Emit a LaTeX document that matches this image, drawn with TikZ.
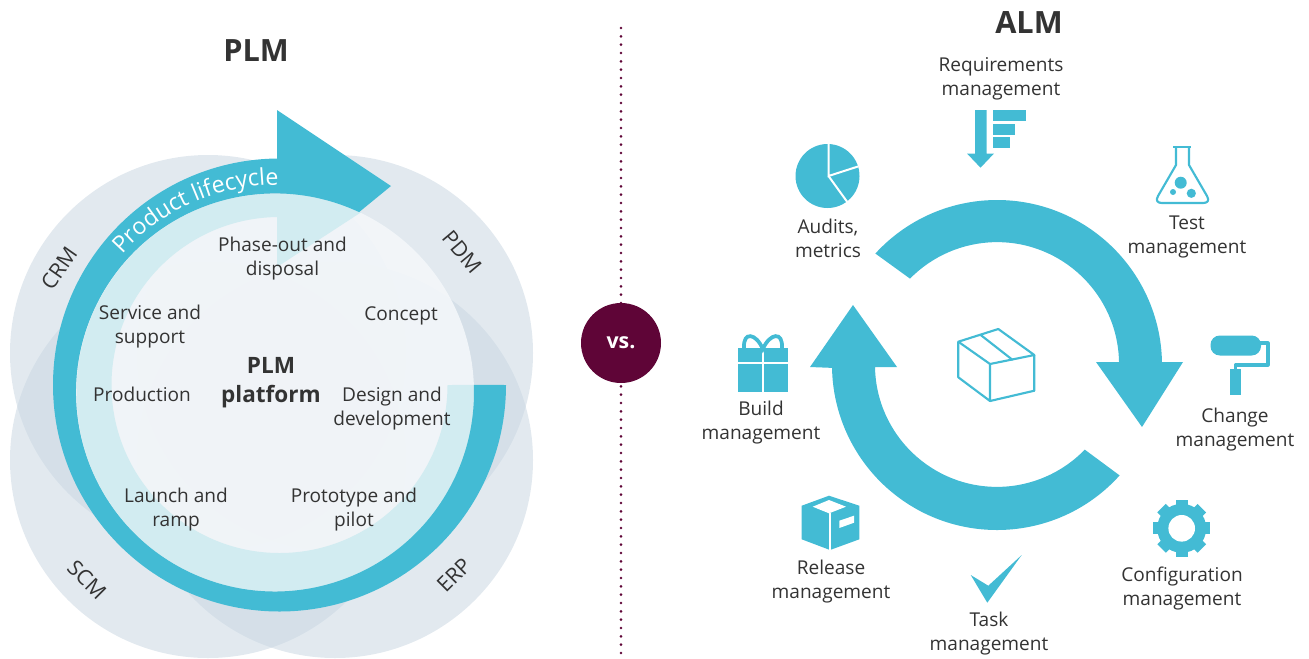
\documentclass[tikz,border=0pt]{standalone}
\usepackage{fontspec}
\setmainfont{Open Sans}
\usetikzlibrary{decorations.text}
\definecolor{cy}{HTML}{43BBD4}
\definecolor{pale}{HTML}{D2ECF1}
\definecolor{gr}{HTML}{CAD7E2}
\definecolor{tx}{HTML}{333333}
\definecolor{plum}{HTML}{5F0537}
\definecolor{disc}{HTML}{F4F7FA}
\tikzset{
 lab/.style={font=\fontsize{14.3}{18}\selectfont,text=tx,align=center,inner sep=0pt},
 side/.style={font=\fontsize{16}{18}\selectfont,text=tx,inner sep=0pt},
 ttl/.style={font=\fontsize{23}{26}\selectfont\bfseries,text=tx,inner sep=0pt},
 gcirc/.style={fill=gr,fill opacity=.55},
 ln/.style={draw=cy,line width=1.6pt,line join=round,fill=none},
}
\begin{document}
\begin{tikzpicture}[x=0.75pt,y=0.75pt]
\useasboundingbox (0,0) rectangle (1309,-658);
\begin{scope}
\clip (0,0) rectangle (1309,-658);
\fill[gcirc] (208,-353) circle[radius=198*0.75pt];
\fill[gcirc] (335,-353) circle[radius=198*0.75pt];
\fill[gcirc] (208,-460) circle[radius=198*0.75pt];
\fill[gcirc] (335,-460) circle[radius=198*0.75pt];
\end{scope}
\fill[disc,fill opacity=.9] (275,-392.5) circle[radius=199*0.75pt];
% pale ring
\fill[pale] (447.5,-385) arc[start angle=0,end angle=-270,radius=168*0.75pt] -- (279,-193.6)
  arc[start angle=89,end angle=362.2,radius=199*0.75pt] -- cycle;
\fill[pale] (277,-193.6) arc[start angle=90,end angle=65,radius=199*0.75pt] -- (277,-267) -- cycle;
% blue ring and arrow
\fill[cy] (506,-385) arc[start angle=0,end angle=-270,radius=226.5*0.75pt] -- (277,-158.5) -- (277,-110) -- (391,-186) -- (359.1,-212.1)
  arc[start angle=65,end angle=362.2,radius=199*0.75pt] -- cycle;
\path[decorate,decoration={text along path,text align=center,
  text={|\fontsize{17.4}{18}\selectfont\color{white}|Product lifecycle}}]
  (277,-392) ++(142:207*0.75pt) arc[start angle=142,end angle=86,radius=207*0.75pt];
% PLM labels
\node[ttl] (plm) at (256,-51) {PLM};
\node[side,rotate=55] (crm) at (59,-268) {CRM};
\node[side,rotate=-50] (pdm) at (462,-252) {PDM};
\node[side,rotate=-45] (scm) at (87,-580) {SCM};
\node[side,rotate=45] (erp) at (454,-575) {ERP};
\node[lab] (phase) at (282.5,-259) {Phase-out and\\disposal};
\node[lab] (concept) at (401,-316) {Concept};
\node[lab] (service) at (150,-327) {Service and\\support};
\node[lab] (prod) at (142,-394) {Production};
\node[lab] (design) at (392,-409) {Design and\\development};
\node[lab] (launch) at (176,-510) {Launch and\\ramp};
\node[lab] (proto) at (354,-510) {Prototype and\\pilot};
\node[lab,font=\fontsize{16.9}{21.5}\selectfont\bfseries] (platform) at (271,-382.5) {PLM\\platform};
% divider
\draw[plum,line width=2.2pt,dash pattern=on 0pt off 6.25pt,line cap=round] (621,-28) -- (621,-658);
\node[circle,fill=plum,minimum size=60pt,inner sep=0pt,text=white,font=\fontsize{16}{16}\selectfont\bfseries] (vs) at (621,-343) {vs.};
% ALM cycle
\fill[cy] (997,-365) ++(137.5:165*0.75pt) arc[start angle=137.5,end angle=1,radius=165*0.75pt] -- (1183,-362) -- (1142,-427) -- (1096,-362) -- (1119,-362)
  arc[start angle=1,end angle=135.5,radius=122*0.75pt] -- cycle;
\fill[cy] (997,-365) ++(-42:165*0.75pt) arc[start angle=-42,end angle=-179,radius=165*0.75pt] -- (810,-367) -- (853,-305) -- (897,-367) -- (875,-367)
  arc[start angle=-179,end angle=-44,radius=122*0.75pt] -- cycle;
\node[ttl] (alm) at (1029,-23) {ALM};
\node[lab] (req) at (1001,-79) {Requirements\\management};
\node[lab] (aud) at (828,-238) {Audits,\\metrics};
\node[lab] (test) at (1187,-237) {Test\\management};
\node[lab] (chg) at (1235,-430) {Change\\management};
\node[lab] (cfg) at (1182,-588) {Configuration\\management};
\node[lab] (task) at (989,-634) {Task\\management};
\node[lab] (rel) at (831,-582) {Release\\management};
\node[lab] (bld) at (761,-423) {Build\\management};
% pie
\fill[cy] (827.5,-176) circle[radius=32*0.75pt];
\draw[white,line width=1.5pt] (828.5,-143) -- (828.5,-176) -- (858,-166.5);
\draw[white,line width=1.5pt] (828.5,-176) -- (848,-203);
% requirements
\fill[cy] (975,-110) -- (986.5,-110) -- (986.5,-153.5) -- (994,-153.5) -- (980.5,-167.7) -- (967,-153.5) -- (975,-153.5) -- cycle;
\fill[cy] (992.7,-110) rectangle (1026,-121);
\fill[cy] (992.7,-124) rectangle (1015,-135);
\fill[cy] (992.7,-137) rectangle (1010,-148);
% flask
\draw[ln] (1176,-147) -- (1176,-165) -- (1158,-196) .. controls (1155,-201) and (1158,-203) .. (1162,-203) -- (1203,-203) .. controls (1207,-203) and (1210,-201) .. (1207,-196) -- (1189,-165) -- (1189,-147);
\draw[ln] (1173,-147) -- (1191,-147);
\fill[cy] (1180.7,-182.7) circle[radius=6*0.75pt] (1191.3,-193.3) circle[radius=4.6*0.75pt] (1173,-192) circle[radius=3*0.75pt];
% roller
\fill[cy,rounded corners=7pt] (1210.5,-335.5) rectangle (1261,-355.5);
\draw[cy,line width=2.4pt,line join=round] (1260,-343) -- (1268,-343) -- (1268,-365) -- (1235.5,-365) -- (1235.5,-371);
\fill[cy] (1230,-369) rectangle (1241,-395);
% gift
\fill[cy] (738,-348) rectangle (788,-392);
\draw[white,line width=1.5pt] (762.8,-348) -- (762.8,-392) (738,-362.7) -- (788,-362.7);
\draw[cy,line width=2.8pt] (744,-348) .. controls (743,-331) and (756,-333) .. (762.8,-349) .. controls (770,-333) and (783,-331) .. (782,-348);
% central box
\draw[ln,line width=1.6pt] (958.3,-341.7) -- (998.3,-329) -- (1034.3,-355) -- (990,-364) -- cycle;
\draw[ln,line width=1.6pt] (958.3,-341.7) -- (958.3,-377.3) -- (990,-401) -- (1034.3,-390.7) -- (1034.3,-355) (990,-364) -- (990,-401) (980.7,-335) -- (1012.7,-360);
% release box
\fill[cy] (829,-495.7) -- (859.3,-505.7) -- (859.3,-539.3) -- (830,-550) -- (801.7,-539.3) -- (801.7,-505.7) -- cycle;
\fill[white] (829,-500) -- (846,-506.7) -- (829,-513.3) -- (812.7,-506.7) -- cycle;
\fill[white] (839.3,-520.7) -- (854,-515.7) -- (854,-522.7) -- (839.3,-528) -- cycle;
\draw[white,line width=1.2pt] (830,-513.3) -- (830,-550);
% gear
\fill[cy] (1181.7,-528.3) circle[radius=24.5*0.75pt];
\foreach \a in {0,45,...,315}{
  \fill[cy,rotate around={\a:(1181.7,-528.3)}] (1175.7,-528.3) rectangle (1187.7,-499.8);
}
\fill[white] (1181.7,-528.3) circle[radius=13.3*0.75pt];
% check
\fill[cy] (970.7,-575) -- (988.3,-585.7) -- (1021.7,-555) -- (987.3,-602.7) -- cycle;
\end{tikzpicture}
\end{document}
